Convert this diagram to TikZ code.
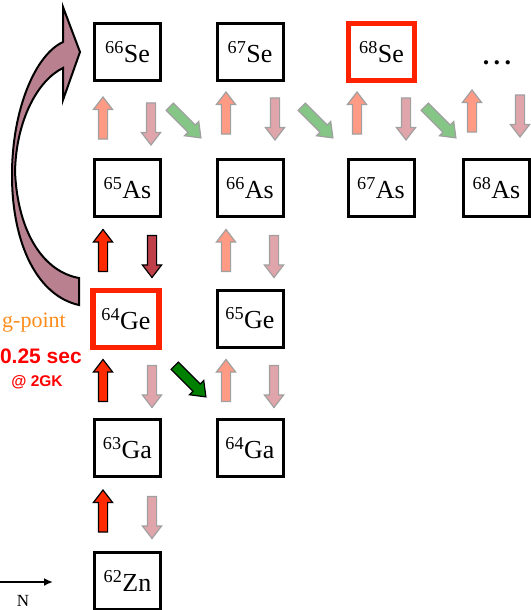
\documentclass[tikz,border=0pt]{standalone}
\usepackage{fontspec}
\setmainfont{Liberation Serif}
\newfontfamily\arialfont{Liberation Sans}
\usetikzlibrary{shapes.arrows,arrows.meta}
\definecolor{boxred}{HTML}{FF2200}
\definecolor{lup}{HTML}{FF9A85}
\definecolor{ldown}{HTML}{E0A5AA}
\definecolor{lgreen}{HTML}{85C585}
\definecolor{rup}{HTML}{FF2A00}
\definecolor{rdown}{HTML}{C0404A}
\definecolor{dgreen}{HTML}{008000}
\definecolor{bigfill}{HTML}{B98090}
\definecolor{orangetxt}{HTML}{FF8C1A}
\definecolor{lborder}{HTML}{A0A0A0}
\tikzset{
  nucbox/.style={draw=black, line width=3pt, minimum width=66pt, minimum height=57pt, inner sep=0pt, font=\fontsize{26}{28}\selectfont},
  redbox/.style={nucbox, draw=boxred, line width=5.5pt},
  barrow/.style={single arrow, minimum height=42pt, single arrow head extend=5pt, single arrow head indent=0pt, single arrow tip angle=75, inner xsep=0pt, inner ysep=4pt, line width=1.2pt},
  lightup/.style={barrow, fill=lup, draw=lborder, rotate=90},
  lightdown/.style={barrow, fill=ldown, draw=lborder, rotate=-90},
  lightgreen/.style={barrow, fill=lgreen, draw=lborder, rotate=-45, inner ysep=4.5pt, minimum height=44pt},
  redup/.style={barrow, fill=rup, draw=black, rotate=90},
  reddown/.style={barrow, fill=rdown, draw=black, rotate=-90},
  darkgreen/.style={barrow, fill=dgreen, draw=black, rotate=-45, inner ysep=4.5pt, minimum height=44pt},
  bigarrow/.style={fill=bigfill, draw=black, line width=2pt, line join=miter},
}
\begin{document}
\begin{tikzpicture}[x=1pt,y=-1pt]
\useasboundingbox (0,0) rectangle (530,610);
% big curved arrow
\draw[bigarrow] (79,305) .. controls (38,296) and (12,245) .. (12,175) .. controls (12,110) and (35,55) .. (63,42) -- (63,7) -- (80,52) -- (63,100) -- (63,68) .. controls (38,80) and (16,120) .. (15,172) .. controls (18,235) and (45,272) .. (79,278) -- cycle;
% boxes
\node[nucbox] (se66) at (127.5,52) {\textsuperscript{66}Se};
\node[nucbox] (se67) at (250,52) {\textsuperscript{67}Se};
\node[redbox] (se68) at (381.5,52) {\textsuperscript{68}Se};
\node[nucbox] (as65) at (127.5,188) {\textsuperscript{65}As};
\node[nucbox] (as66) at (250,188) {\textsuperscript{66}As};
\node[nucbox] (as67) at (381,188) {\textsuperscript{67}As};
\node[nucbox] (as68) at (496.5,188) {\textsuperscript{68}As};
\node[redbox] (ge64) at (126,319) {\textsuperscript{64}Ge};
\node[nucbox] (ge65) at (250,318.5) {\textsuperscript{65}Ge};
\node[nucbox] (ga63) at (127.5,448) {\textsuperscript{63}Ga};
\node[nucbox] (ga64) at (250,448) {\textsuperscript{64}Ga};
\node[nucbox] (zn62) at (127.5,580.5) {\textsuperscript{62}Zn};
\node[anchor=base, font=\fontsize{26}{28}\selectfont\bfseries] (dots) at (497,64) {.\,.\,.};
% row 1 arrows
\node[lightup] (u11) at (103,121) {};
\node[lightdown] (d11) at (151,121) {};
\node[lightgreen] (g11) at (183,120) {};
\node[lightup] (u12) at (226,116) {};
\node[lightdown] (d12) at (275,116) {};
\node[lightgreen] (g12) at (315,120) {};
\node[lightup] (u13) at (357,116) {};
\node[lightdown] (d13) at (406,116) {};
\node[lightgreen] (g13) at (438,120) {};
\node[lightup] (u14) at (472,114) {};
\node[lightdown] (d14) at (520,113) {};
% row 2
\node[redup] (u21) at (103,253.5) {};
\node[reddown] (d21) at (152,253.5) {};
\node[lightup] (u22) at (226,253.5) {};
\node[lightdown] (d22) at (274,253.5) {};
% row 3
\node[redup] (u31) at (103,383.5) {};
\node[lightdown] (d31) at (152,383.5) {};
\node[darkgreen] (g31) at (188,379) {};
\node[lightup] (u32) at (226,383.5) {};
\node[lightdown] (d32) at (274,383.5) {};
% row 4
\node[redup] (u41) at (103,514) {};
\node[lightdown] (d41) at (152,514.5) {};
% texts
\node[anchor=base east, inner sep=0pt, text=orangetxt, font=\fontsize{22}{24}\selectfont] (wp) at (66,327) {g-point};
\node[anchor=base east, inner sep=0pt, text=red, font=\arialfont\bfseries\fontsize{21}{23}\selectfont] (sec) at (82,363) {0.25 sec};
\node[anchor=base, inner sep=0pt, text=red, font=\arialfont\bfseries\fontsize{15.5}{17}\selectfont] (gk) at (37,386) {@ 2GK};
% N axis
\coordinate (nstart) at (0,582);
\coordinate (nend) at (53,582);
\draw[line width=2pt, -{Latex[length=9pt,width=8pt]}] (nstart) -- (nend);
\node[anchor=base, inner sep=0pt, font=\fontsize{17}{19}\selectfont] (nlab) at (23,606) {N};
\end{tikzpicture}
\end{document}
